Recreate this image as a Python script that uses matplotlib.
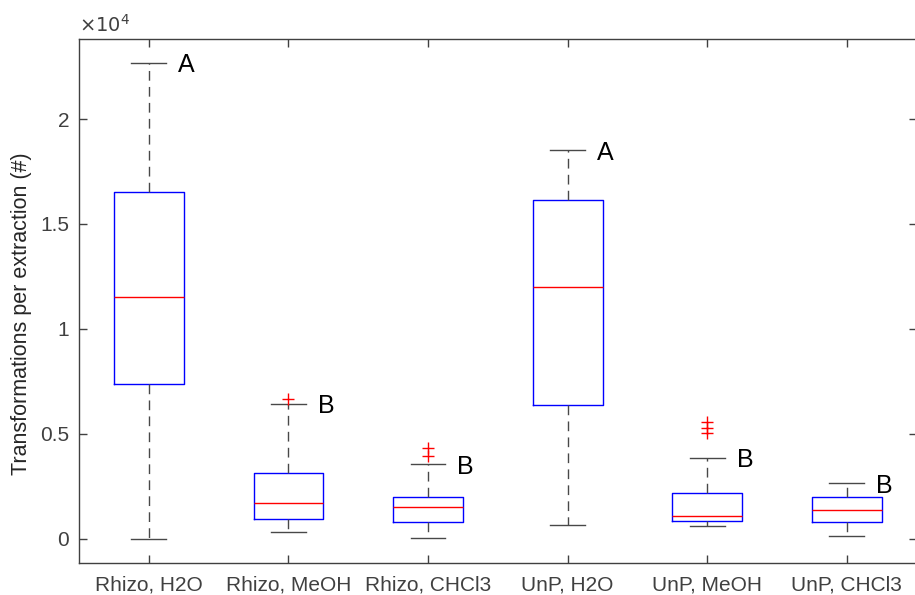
import matplotlib
matplotlib.use('Agg')
import matplotlib.pyplot as plt
from matplotlib.ticker import FuncFormatter

plt.rcParams['font.family'] = ['Liberation Sans', 'DejaVu Sans']

# values (transformations per extraction)
groups = ['Rhizo, H2O', 'Rhizo, MeOH', 'Rhizo, CHCl3', 'UnP, H2O', 'UnP, MeOH', 'UnP, CHCl3']
whisker_low = [20, 320, 60, 670, 600, 140]
q1 = [7380, 940, 810, 6380, 860, 800]
median = [11520, 1730, 1540, 12000, 1110, 1370]
q3 = [16520, 3130, 2010, 16140, 2210, 2000]
whisker_high = [22680, 6440, 3570, 18520, 3860, 2650]
outliers = [[], [6670], [3950, 4320], [], [5030, 5270, 5590], []]
letters = ['A', 'B', 'B', 'A', 'B', 'B']

axis_col = '#404040'

stats = []
for i in range(len(groups)):
    stats.append({'label': groups[i], 'whislo': whisker_low[i], 'q1': q1[i], 'med': median[i],
                  'q3': q3[i], 'whishi': whisker_high[i], 'fliers': outliers[i]})

fig = plt.figure(figsize=(9.15, 5.95), dpi=100)
ax = fig.add_axes([79 / 915, 32.3 / 595, 837.6 / 915, 523.7 / 595])

ax.bxp(stats, positions=range(1, len(groups) + 1), widths=0.5, capwidths=0.25,
       boxprops=dict(color='blue', linewidth=1),
       medianprops=dict(color='red', linewidth=1),
       whiskerprops=dict(color='#484848', linewidth=1, linestyle=(0, (7, 4.5))),
       capprops=dict(color='#484848', linewidth=1),
       flierprops=dict(marker='+', markeredgecolor='red', markersize=9, markeredgewidth=1,
                       linestyle='none'))

# significance letters next to the upper caps
for i, lab in enumerate(letters):
    ax.text(i + 1 + 0.21, whisker_high[i], lab, ha='left', va='center_baseline',
            fontsize=18, color='black')

ax.set_xlim(0.5, 6.5)
ax.set_ylim(-1130, 23810)
ax.set_yticks([0, 5000, 10000, 15000, 20000])
ax.yaxis.set_major_formatter(FuncFormatter(lambda v, p: f'{v / 1e4:g}'))
ax.set_xticks(range(1, len(groups) + 1))
ax.set_xticklabels(groups)

ax.tick_params(direction='in', length=6, width=1, colors=axis_col, labelsize=15,
               top=True, right=True)
ax.tick_params(axis='y', pad=7)
ax.tick_params(axis='x', pad=9)
for s in ax.spines.values():
    s.set_color(axis_col)
    s.set_linewidth(1)

ax.set_ylabel('Transformations per extraction (#)', fontsize=15.5, color='#262626')
ax.yaxis.set_label_coords(-0.056, 0.475)

ax.text(0.0, 1.006, r'$\times10^4$', transform=ax.transAxes, ha='left', va='bottom',
        fontsize=14, color=axis_col)

fig.savefig('out.png', dpi=100)
